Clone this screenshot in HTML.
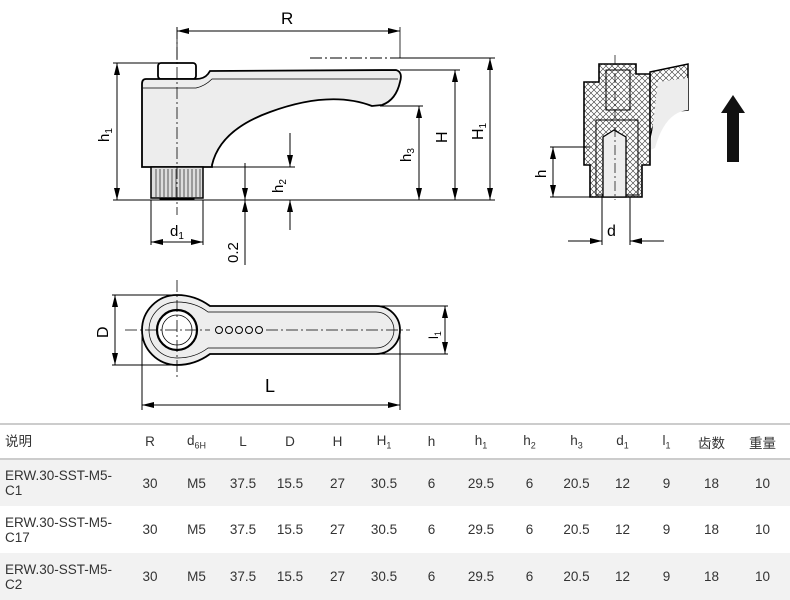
<!DOCTYPE html>
<html><head><meta charset="utf-8"><style>
body{margin:0;width:790px;height:598px;background:#fff;overflow:hidden;font-family:"Liberation Sans","Noto Sans CJK SC",sans-serif;}
svg{position:absolute;left:0;top:0}
table{position:absolute;left:0;top:423px;width:790px;border-collapse:collapse;table-layout:fixed;font-size:13.5px;color:#333;font-family:"Liberation Sans","Noto Sans CJK SC",sans-serif;}
td,th{text-align:center;padding:0;font-weight:normal;white-space:nowrap}
thead tr{height:35px;border-top:2px solid #ccc;border-bottom:2px solid #ccc}
tbody tr{height:47px}
tbody tr.g{background:#f2f2f2}
td:first-child,th:first-child{text-align:left;padding-left:5px;line-height:15px}
sub{font-size:9px}
</style></head><body>
<svg width="790" height="420" viewBox="0 0 790 420" font-family="Liberation Sans, sans-serif">
<defs>
<marker id="a" markerWidth="12" markerHeight="8" refX="12" refY="4" orient="auto-start-reverse" markerUnits="userSpaceOnUse"><path d="M0,1 L12,4 L0,7 Z" fill="#000"/></marker>
<pattern id="h" width="6" height="6" patternUnits="userSpaceOnUse"><rect width="6" height="6" fill="#fff"/><path d="M0,0 L6,6 M6,0 L0,6" stroke="#333" stroke-width="0.6"/></pattern>
</defs>
<g stroke="#000" fill="none" stroke-width="1">
<rect x="158" y="63" width="38" height="16" rx="3" fill="#fff" stroke-width="1.8"/>
<path d="M146,79 L196,79 Q204,79 208,74 L210,71 L396,70 Q403,72 400,82 Q396,100 382,105 L372,106 Q330,90 270,112 Q220,130 212,165 L212,167 L142,167 L142,84 Q142,79 146,79 Z" fill="#ededed" stroke-width="1.8"/>
<path d="M143,88 L196,88 Q205,86 212,79 L398,79" stroke-width="0.7"/>
<rect x="151" y="167" width="52" height="31" fill="#ddd" stroke-width="1.5"/>
<path d="M156,169v28M160,169v28M164,169v28M168,169v28M172,169v28M176,169v28M180,169v28M184,169v28M188,169v28M192,169v28M196,169v28M200,169v28" stroke-width="0.6"/>
<rect x="160" y="198" width="34" height="2" fill="#000"/>
<path d="M177,27 V215" stroke-dasharray="12,3,2,3" stroke-width="0.8"/>
<path d="M177,27V60 M400,27V58" stroke-width="0.8"/>
<line x1="177" y1="31" x2="400" y2="31" marker-start="url(#a)" marker-end="url(#a)"/>
<path d="M310,58 H400" stroke-dasharray="12,3,2,3"/>
<path d="M400,58 H495 M400,70 H460 M380,106 H423 M113,200 H495 M113,63 H160 M212,167 H295 M203,200 V245 M151,200 V245"/>
<line x1="117" y1="63" x2="117" y2="200" marker-start="url(#a)" marker-end="url(#a)"/>
<line x1="419" y1="106" x2="419" y2="200" marker-start="url(#a)" marker-end="url(#a)"/>
<line x1="455" y1="70" x2="455" y2="200" marker-start="url(#a)" marker-end="url(#a)"/>
<line x1="490" y1="58" x2="490" y2="200" marker-start="url(#a)" marker-end="url(#a)"/>
<line x1="290" y1="133" x2="290" y2="167" marker-end="url(#a)"/>
<line x1="290" y1="230" x2="290" y2="200" marker-end="url(#a)"/>
<line x1="245" y1="163" x2="245" y2="200" marker-end="url(#a)"/>
<line x1="245" y1="265" x2="245" y2="200" marker-end="url(#a)"/>
<line x1="151" y1="242" x2="203" y2="242" marker-start="url(#a)" marker-end="url(#a)"/>
<path d="M177,295 A35,35 0 1 0 177,365 Q195,365 210,354 L376,354 A24,24 0 0 0 376,306 L210,306 Q195,295 177,295 Z" fill="#ededed" stroke-width="1.8"/>
<path d="M177,302 A28,28 0 1 0 177,358 Q195,358 208,348 L376,348 A18,18 0 0 0 376,312 L208,312 Q195,302 177,302 Z" stroke-width="0.7"/>
<circle cx="177" cy="330" r="20" fill="#fff" stroke-width="2.2"/>
<circle cx="177" cy="330" r="15" stroke-width="0.8"/>
<circle cx="219" cy="330" r="3.5"/><circle cx="229" cy="330" r="3.5"/><circle cx="239" cy="330" r="3.5"/><circle cx="249" cy="330" r="3.5"/><circle cx="259" cy="330" r="3.5"/>
<path d="M125,330 H210 M266,330 H410 M177,280 V380" stroke-dasharray="12,3,2,3" stroke-width="0.8"/>
<path d="M112,295 H177 M112,365 H177 M376,306 H448 M376,354 H448 M142,330 V410 M400,330 V410"/>
<line x1="115" y1="295" x2="115" y2="365" marker-start="url(#a)" marker-end="url(#a)"/>
<line x1="445" y1="306" x2="445" y2="354" marker-start="url(#a)" marker-end="url(#a)"/>
<line x1="142" y1="405" x2="400" y2="405" marker-start="url(#a)" marker-end="url(#a)"/>
<path d="M650,72 L688,64 L688,110 L665,112 Q652,116 648,150 L648,165 Z" fill="url(#h)" stroke-width="1.5"/>
<path d="M658,82 L688,78 L688,110 Q665,112 655,148 L650,150 Z" fill="#ededed" stroke="none"/>
<path d="M599,64 L636,64 L636,74 L650,74 L650,165 L642,165 L642,197 L590,197 L590,165 L584,165 L584,82 L599,82 Z" fill="url(#h)" stroke-width="1.6"/>
<path d="M606,70 H630 V110 H606 Z" fill="url(#h)" stroke-width="1"/>
<path d="M596,120 H638 V195 H596 Z" fill="url(#h)" stroke-width="1"/>
<path d="M603,137 L614,130 L626,137 V197 H603 Z" fill="#eee" stroke-width="1.3"/>
<path d="M615,55 V200" stroke-dasharray="10,3,2,3" stroke-width="0.7"/>
<path d="M550,147 H590 M550,197 H590 M602,197 V245 M630,197 V245"/>
<line x1="553" y1="147" x2="553" y2="197" marker-start="url(#a)" marker-end="url(#a)"/>
<line x1="568" y1="241" x2="602" y2="241" marker-end="url(#a)"/>
<line x1="664" y1="241" x2="630" y2="241" marker-end="url(#a)"/>
<path d="M727,162 V113 H721 L733,95 L745,113 H739 V162 Z" fill="#111" stroke="none"/>
</g>
<g font-size="17" fill="#000">
<text x="281" y="24">R</text>
<text x="170" y="236" font-size="15">d<tspan font-size="10" dy="3">1</tspan></text>
<text x="265" y="392" font-size="18">L</text>
<text x="607" y="236" font-size="16">d</text>
<text transform="translate(109,142) rotate(-90)" font-size="15">h<tspan font-size="10" dy="3">1</tspan></text>
<text transform="translate(411,162) rotate(-90)" font-size="15">h<tspan font-size="10" dy="3">3</tspan></text>
<text transform="translate(447,143) rotate(-90)" font-size="16">H</text>
<text transform="translate(483,140) rotate(-90)" font-size="16">H<tspan font-size="10" dy="3">1</tspan></text>
<text transform="translate(283,193) rotate(-90)" font-size="15">h<tspan font-size="10" dy="3">2</tspan></text>
<text transform="translate(238,263) rotate(-90)" font-size="15">0.2</text>
<text transform="translate(546,178) rotate(-90)" font-size="15">h</text>
<text transform="translate(108,338) rotate(-90)" font-size="16">D</text>
<text transform="translate(438,339) rotate(-90)" font-size="13">l<tspan font-size="9" dy="3">1</tspan></text>
</g>
</svg>
<table>
<colgroup><col style="width:127px"><col style="width:46px"><col style="width:47px"><col style="width:46px"><col style="width:48px"><col style="width:47px"><col style="width:46px"><col style="width:49px"><col style="width:50px"><col style="width:47px"><col style="width:47px"><col style="width:45px"><col style="width:43px"><col style="width:47px"><col style="width:55px"></colgroup>
<thead><tr><th>说明</th><th>R</th><th>d<sub>6H</sub></th><th>L</th><th>D</th><th>H</th><th>H<sub>1</sub></th><th>h</th><th>h<sub>1</sub></th><th>h<sub>2</sub></th><th>h<sub>3</sub></th><th>d<sub>1</sub></th><th>l<sub>1</sub></th><th>齿数</th><th>重量</th></tr></thead>
<tbody>
<tr class="g"><td>ERW.30-SST-M5-<br>C1</td><td>30</td><td>M5</td><td>37.5</td><td>15.5</td><td>27</td><td>30.5</td><td>6</td><td>29.5</td><td>6</td><td>20.5</td><td>12</td><td>9</td><td>18</td><td>10</td></tr>
<tr><td>ERW.30-SST-M5-<br>C17</td><td>30</td><td>M5</td><td>37.5</td><td>15.5</td><td>27</td><td>30.5</td><td>6</td><td>29.5</td><td>6</td><td>20.5</td><td>12</td><td>9</td><td>18</td><td>10</td></tr>
<tr class="g"><td>ERW.30-SST-M5-<br>C2</td><td>30</td><td>M5</td><td>37.5</td><td>15.5</td><td>27</td><td>30.5</td><td>6</td><td>29.5</td><td>6</td><td>20.5</td><td>12</td><td>9</td><td>18</td><td>10</td></tr>
</tbody></table>
</body></html>
